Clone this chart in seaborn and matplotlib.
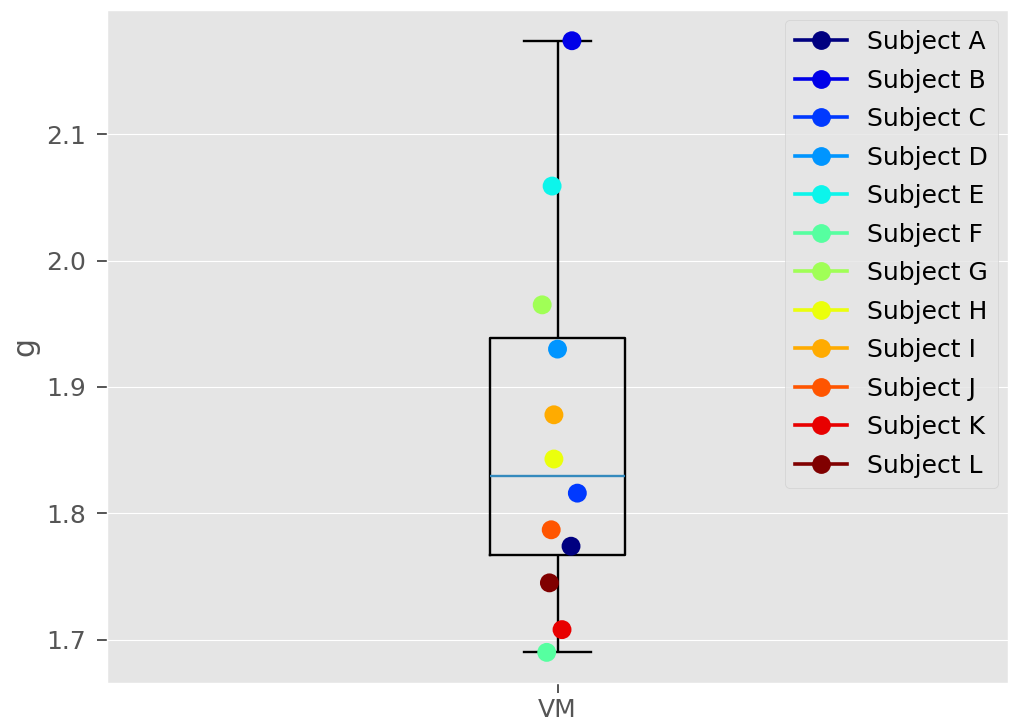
import numpy as np
import pandas as pd
import seaborn as sns
import matplotlib.pyplot as plt
from matplotlib.lines import Line2D

subjects = ["Subject A", "Subject B", "Subject C", "Subject D", "Subject E", "Subject F",
            "Subject G", "Subject H", "Subject I", "Subject J", "Subject K", "Subject L"]
g_values = [1.774, 2.174, 1.816, 1.930, 2.059, 1.690,
            1.965, 1.843, 1.878, 1.787, 1.708, 1.745]
# horizontal jitter of each dot
x_offsets = [0.015, 0.016, 0.022, 0.000, -0.006, -0.012,
             -0.017, -0.004, -0.004, -0.007, 0.005, -0.009]
group = "VM"

plt.style.use("ggplot")
plt.rcParams["font.size"] = 18

colors = [plt.cm.jet(v) for v in np.linspace(0, 1, len(subjects))]

df = pd.DataFrame({"group": group, "subject": subjects, "g": g_values, "offset": x_offsets})

fig = plt.figure(figsize=(10.1, 7.25), dpi=100)
ax = fig.add_axes([0.106, 0.058, 0.892, 0.928])

sns.boxplot(data=df, x="group", y="g", width=0.15, fill=False, color="black",
            linewidth=1.7, whis=1.5, showfliers=False,
            medianprops={"color": "#348ABD", "linewidth": 1.7}, ax=ax)

sns.scatterplot(data=df, x="offset", y="g", hue="subject", palette=colors,
                s=185, linewidth=0, legend=False, zorder=3, ax=ax)

ax.set_xlim(-0.5, 0.5)
ax.set_xticks([0])
ax.set_xticklabels([group])
ax.set_xlabel("")
ax.set_ylabel("g", fontsize=21.5, labelpad=5)
ax.set_yticks([1.7, 1.8, 1.9, 2.0, 2.1])
ax.tick_params(axis="both", length=7, width=1.4, labelsize=18, color="#555555")
ax.tick_params(axis="y", pad=8)
ax.tick_params(axis="x", pad=4)

handles = [Line2D([0], [0], color=c, marker="o", markersize=12.5, linewidth=2.6) for c in colors]
ax.legend(handles, subjects, loc="upper right", fontsize=18, framealpha=0.8,
          handlelength=2.1, labelspacing=0.58, borderaxespad=0.4)

fig.savefig("out.png")
